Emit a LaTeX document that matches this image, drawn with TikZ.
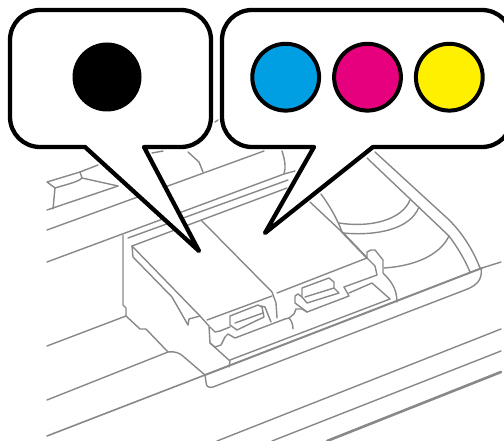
\documentclass[tikz,border=0pt]{standalone}
\definecolor{pcyan}{HTML}{009FE3}
\definecolor{pmagenta}{HTML}{E6007E}
\definecolor{pyellow}{HTML}{FFF000}
\definecolor{lineart}{HTML}{888888}
\tikzset{
  art/.style={draw=lineart,line width=1.4pt,line join=round,line cap=round},
  heavy/.style={art,line width=2pt},
  bubble/.style={draw=black,fill=white,line width=4.3pt,line join=round},
  ink/.style={draw=black,line width=4pt}
}
\begin{document}
\begin{tikzpicture}[x=1pt,y=-1pt]
\useasboundingbox (0,0) rectangle (504,441);
% back left lid detail
\draw[art] (98,165) -- (80,172) -- (47,182) -- (55,188) -- (53,209);
\draw[art] (47,210) -- (118,186);
\draw[art] (55,188) .. controls (68,184) and (78,182) .. (82,178) -- (80,172);
\draw[art] (82,178) -- (118,186);
\draw[art] (47,230) -- (264,151);
\draw[art] (152,153) -- (163,151);
\draw[art] (215,122) -- (218,120);
\draw[art] (188,152) -- (199,162) -- (203,172);
% long rails
\draw[art] (47,262) -- (284,174) -- (295,171);
\draw[art] (284,174) .. controls (286,168) and (285,160) .. (282,151);
\draw[art] (128,238) -- (288,180);
\draw[art] (132,246) -- (287,188);
% left body
\draw[art] (123,235) -- (123,305) -- (126,308) -- (126,316) -- (140,329) -- (146,329) -- (168,352)
  .. controls (175,351) and (180,353) .. (184,357) -- (205,375);
\draw[art] (47,346) -- (126,316);
\draw[art] (47,400) -- (168,352);
\draw[heavy,line width=1.6pt] (47,436) -- (205,375);
\draw[heavy] (205,375) -- (482,268);
\draw[art] (482,268) -- (501,262);
% tray
\draw[art] (205,375) -- (206,382) .. controls (206,387) and (209,388) .. (213,387)
  -- (465,290) .. controls (476,286) and (483,280) .. (481,268);
% lower lines
\draw[art] (217,441) -- (501,329);
\draw[art] (272,441) -- (501,351);
\draw[heavy,line width=2.6pt] (327,441) -- (501,372);
% first cartridge
\draw[art] (132,246) -- (133,257) -- (172,297) -- (188,325) -- (189,319) -- (200,316) -- (209,326) -- (210,343) -- (230,361) -- (229,367);
\draw[art] (132,246) -- (200,316);
\draw[art] (201,220) -- (272,292) -- (276,303) -- (277,318);
\draw[art] (207,320) -- (272,296);
\draw[art] (210,327) -- (215,332) -- (220,331) -- (230,327);
\draw[art] (210,343) -- (215,347) -- (221,345) -- (225,337) -- (228,334) -- (235,338) -- (285,319);
% first latch
\draw[art] (230,325) -- (230,316) -- (258,305) -- (262,307) -- (264,317) -- (237,330) -- cycle;
\draw[art] (235,323) -- (263,313);
\draw[art] (261,306) -- (265,307) -- (271,322);
% middle joint
\draw[art] (285,319) -- (289,318) .. controls (291,320) and (293,324) .. (293,329);
\draw[art] (289,318) -- (294,314) -- (296,309) -- (302,309) -- (307,312);
% second cartridge
\draw[art] (277,293) -- (367,258);
\draw[art] (367,258) -- (367,252) -- (371,250) -- (375,250) -- (383,260) -- (383,273)
  .. controls (390,280) and (397,288) .. (397,302);
\draw[art] (367,258) -- (375,266) -- (377,275) -- (344,287);
\draw[art] (344,287) -- (349,296) -- (307,312) -- (295,303) -- (295,296) -- (298,294) -- (302,297);
% second latch
\draw[art] (302,297) -- (302,288) -- (329,278) -- (334,282) -- (334,288) -- (339,293) -- (307,303) -- cycle;
\draw[art] (305,297) -- (334,288);
% tray recess
\draw[art] (349,293) -- (372,283) -- (390,299);
\draw[art] (230,360) -- (390,299);
% right side arcs
\draw[art] (310,202) -- (342,232);
\draw[heavy] (342,232) -- (367,258);
\draw[art] (321,194) .. controls (329,205) and (337,218) .. (342,232);
\draw[art] (339,223) .. controls (370,228) and (402,220) .. (410,200);
\draw[art] (343,233) .. controls (375,236) and (410,230) .. (419,207);
\draw[art] (384,268) .. controls (415,266) and (440,255) .. (449,236);
\draw[art] (367,158) -- (449,236) .. controls (458,248) and (465,260) .. (470,272);
\draw[art] (375,152) -- (447,218) .. controls (462,232) and (473,250) .. (480,268);
% call-outs
\draw[bubble] (40,10) -- (181,10) arc[start angle=-90,end angle=0,radius=30] -- (211,117)
  arc[start angle=0,end angle=90,radius=30] -- (144,147) -- (199,251) -- (85,147) -- (40,147)
  arc[start angle=90,end angle=180,radius=30] -- (10,40) arc[start angle=180,end angle=270,radius=30] -- cycle;
\draw[bubble] (252,10) -- (482,10) arc[start angle=-90,end angle=0,radius=30] -- (512,117)
  arc[start angle=0,end angle=90,radius=30] -- (373,147) -- (265,233) -- (314,147) -- (252,147)
  arc[start angle=90,end angle=180,radius=30] -- (222,40) arc[start angle=180,end angle=270,radius=30] -- cycle;
\fill[black] (107,77) circle[radius=34.5];
\draw[ink,fill=pcyan] (285.7,77.2) circle[radius=33.4];
\draw[ink,fill=pmagenta] (367.5,77.2) circle[radius=33.4];
\draw[ink,fill=pyellow] (449.3,77.2) circle[radius=33.4];
\end{tikzpicture}
\end{document}
